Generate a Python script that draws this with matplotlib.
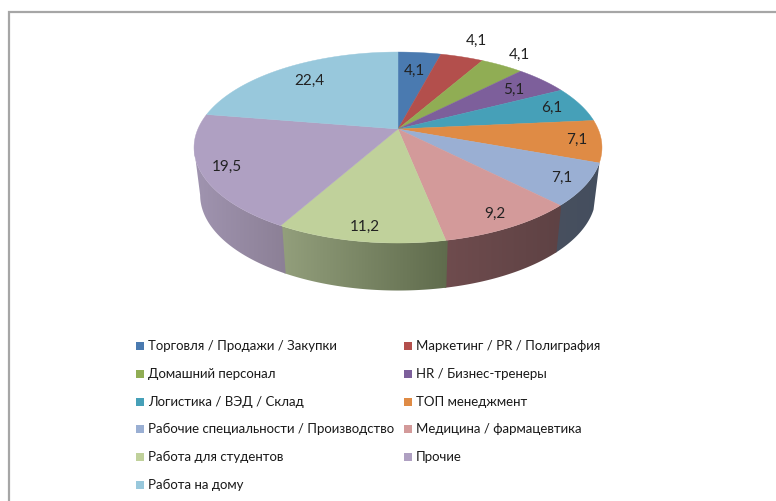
import numpy as np
import matplotlib
matplotlib.use("Agg")
import matplotlib.pyplot as plt
from matplotlib.colors import LinearSegmentedColormap
from matplotlib.patches import Polygon, Rectangle

plt.rcParams["font.family"] = ["Lato", "Noto Sans", "DejaVu Sans"]

# values and legend labels
categories = [
    "Торговля / Продажи / Закупки", "Маркетинг / PR / Полиграфия",
    "Домашний персонал", "HR / Бизнес-тренеры",
    "Логистика / ВЭД / Склад", "ТОП менеджмент",
    "Рабочие специальности / Производство", "Медицина / фармацевтика",
    "Работа для студентов", "Прочие", "Работа на дому",
]
values = [4.1, 4.1, 4.1, 5.1, 6.1, 7.1, 7.1, 9.2, 11.2, 19.5, 22.4]
value_labels = ["4,1", "4,1", "4,1", "5,1", "6,1", "7,1", "7,1", "9,2", "11,2", "19,5", "22,4"]
colors = ["#4a7ab0", "#b34f4c", "#90ad54", "#7d5f9b", "#46a0b8", "#df8b45",
          "#9aafd3", "#d39a9a", "#c0d19b", "#afa0c2", "#98c8dc"]
# wall colours, left and right end of each slice as seen on screen
# the orange slice has no wall worth drawing, it is only a hairline in the chart
wall_left = [None] * 6 + ["#48505f", "#6f4c4e", "#939f7c", "#a094b0", "#98c8dc"]
wall_right = [None] * 6 + ["#444e5e", "#5e4244", "#5f6b4c", "#8c8096", "#98c8dc"]

# pie geometry in pixels, the rim is a circle seen in perspective
cx, cy = 398, 129
scale_x, scale_y = 200.1, 91.9
persp = 0.194
depth = 47.5
bottom_scale = 0.97

# distance of each value label from the centre, fraction of radius
label_r = [0.72, 1.28, 1.2, 0.785, 0.835, 0.883, 0.885, 0.885, 0.89, 0.88, 0.757]


def project(angle, r=1.0):
    # angle runs clockwise from the top of the pie
    u = r * np.sin(angle)
    v = r * np.cos(angle)
    d = 1 + persp * v
    return cx + scale_x * u / d, cy - scale_y * v / d


fig = plt.figure(figsize=(7.76, 5.01), dpi=100)
ax = fig.add_axes([0, 0, 1, 1])
ax.axis("off")

# chart frame, open on the right and bottom
ax.plot([8.5, 8.5, 776], [501, 12, 12], color="#a6a6a6", lw=1.6, solid_joinstyle="miter")

angles = 2 * np.pi * np.cumsum([0] + values) / sum(values)

# the wall is visible only below the points where the rim turns back
turn = np.pi / 2 + np.arcsin(persp)

for i in range(len(values)):
    if wall_left[i] is None:
        continue
    lo = max(angles[i], turn)
    hi = min(angles[i + 1], 2 * np.pi - turn)
    if hi <= lo:
        continue
    # small overlap so no white seam shows between neighbours
    t = np.linspace(lo - 0.008, hi, 80)
    xs, ys = project(t)
    xb = cx + bottom_scale * (xs - cx)
    yb = ys + depth
    pts = list(zip(xs, ys)) + list(zip(xb[::-1], yb[::-1]))
    clip = Polygon(pts, closed=True, facecolor="none", edgecolor="none", transform=ax.transData)
    ax.add_patch(clip)
    cmap = LinearSegmentedColormap.from_list("wall", [wall_left[i], wall_right[i]])
    grad = np.linspace(0, 1, 128).reshape(1, -1)
    img = ax.imshow(grad, cmap=cmap,
                    extent=[min(xs.min(), xb.min()), max(xs.max(), xb.max()), yb.max(), ys.min()],
                    aspect="auto", zorder=2 + i * 0.01, interpolation="bilinear")
    img.set_clip_path(clip)

# top faces
for i in range(len(values)):
    t = np.linspace(angles[i], angles[i + 1], 80)
    xs, ys = project(t)
    pts = [(cx, cy)] + list(zip(xs, ys))
    ax.add_patch(Polygon(pts, closed=True, facecolor=colors[i], edgecolor=colors[i], lw=0.3, zorder=3))

# value labels
for i, lab in enumerate(value_labels):
    x, y = project((angles[i] + angles[i + 1]) / 2, label_r[i])
    ax.text(x, y, lab, ha="center", va="center", fontsize=11, color="#222222", zorder=5)

# legend, two columns
col_x = [136, 404]
row_y = [346, 374, 401.7, 429.3, 457, 484.7]
for i, name in enumerate(categories):
    x = col_x[i % 2]
    y = row_y[i // 2]
    ax.add_patch(Rectangle((x, y - 4), 8, 8, facecolor=colors[i], edgecolor="none", zorder=4))
    ax.text(x + 12, y, name, ha="left", va="center", fontsize=9.5, color="#1a1a1a")

ax.set_xlim(0, 776)
ax.set_ylim(501, 0)

fig.savefig("out.png", dpi=100)
